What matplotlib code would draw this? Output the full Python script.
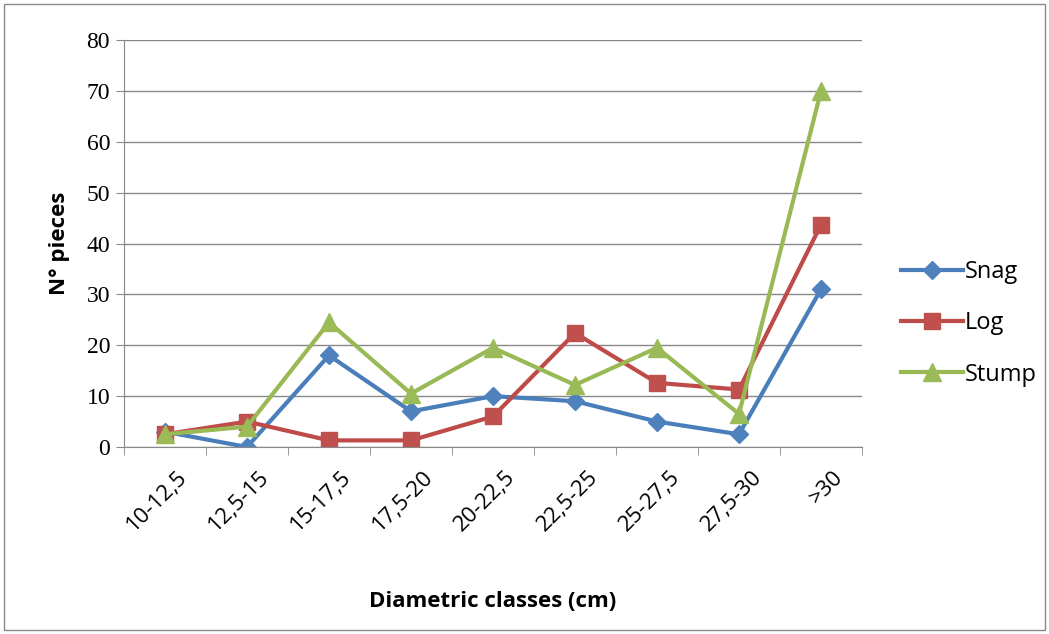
import numpy as np
import matplotlib
matplotlib.use("Agg")
import matplotlib.pyplot as plt
import matplotlib.patches as patches
import matplotlib.transforms as mtransforms

# data
classes = ['10-12,5', '12,5-15', '15-17,5', '17,5-20', '20-22,5',
           '22,5-25', '25-27,5', '27,5-30', '>30']
snag = [3, 0, 18, 7, 10, 9, 5, 2.5, 31]
log = [2.5, 5, 1.3, 1.3, 6, 22.4, 12.6, 11.3, 43.7]
stump = [2.5, 4, 24.5, 10.5, 19.5, 12.2, 19.5, 6.5, 70]

fig = plt.figure(figsize=(10.49, 6.34), dpi=100)
ax = fig.add_axes([124 / 1049, 1 - 447 / 634, (862 - 124) / 1049, (447 - 40) / 634])

x = np.arange(len(classes))
ax.plot(x, snag, color='#4A7EBB', lw=3, marker='D', ms=9.5, mfc='#4F81BD', mec='#4F81BD', label='Snag')
ax.plot(x, log, color='#BE4B48', lw=3, marker='s', ms=12, mfc='#C0504D', mec='#C0504D', label='Log')
ax.plot(x, stump, color='#98B954', lw=3, marker='^', ms=13, mfc='#9BBB59', mec='#9BBB59', label='Stump')

ax.set_xlim(-0.5, len(classes) - 0.5)
ax.set_ylim(0, 80)
ax.set_yticks(range(0, 81, 10))
ax.grid(axis='y', color='#888888', lw=1.0)
ax.set_axisbelow(True)

for s in ['top', 'right']:
    ax.spines[s].set_visible(False)
ax.spines['left'].set_color('#888888')
ax.spines['bottom'].set_color('#888888')

# tick marks at category boundaries, labels centred
ax.set_xticks(x)
ax.set_xticklabels(classes, rotation=45, ha='right', va='top', rotation_mode='anchor',
                   fontsize=16, family='Open Sans')
ax.tick_params(axis='x', which='major', length=0, pad=14)
shift = mtransforms.ScaledTranslation(12 / 100, 0, fig.dpi_scale_trans)
for t in ax.get_xticklabels():
    t.set_transform(t.get_transform() + shift)
ax.set_xticks(np.arange(-0.5, len(classes)), minor=True)
ax.tick_params(axis='x', which='minor', length=6, color='#888888', direction='out')
ax.tick_params(axis='y', length=6, color='#888888', pad=4)
for t in ax.get_yticklabels():
    t.set_family('Liberation Serif')
    t.set_fontsize(17)

ax.set_xlabel('Diametric classes (cm)', fontsize=16, fontweight='bold', family='Open Sans', labelpad=40)
ax.set_ylabel('N° pieces', fontsize=16, fontweight='bold', family='Open Sans', labelpad=12)

leg = fig.legend(loc='upper left', bbox_to_anchor=(880 / 1049, 1 - 239 / 634), frameon=False,
                 prop={'family': 'Open Sans', 'size': 17}, handlelength=2.6,
                 labelspacing=1.15, handletextpad=0.1)

# outer chart frame
fig.patches.append(patches.Rectangle((4 / 1049, 4 / 634), 1 - 8 / 1049, 1 - 8 / 634,
                                     transform=fig.transFigure, fill=False,
                                     edgecolor='#888888', lw=1.0))

fig.savefig('out.png', dpi=100)
